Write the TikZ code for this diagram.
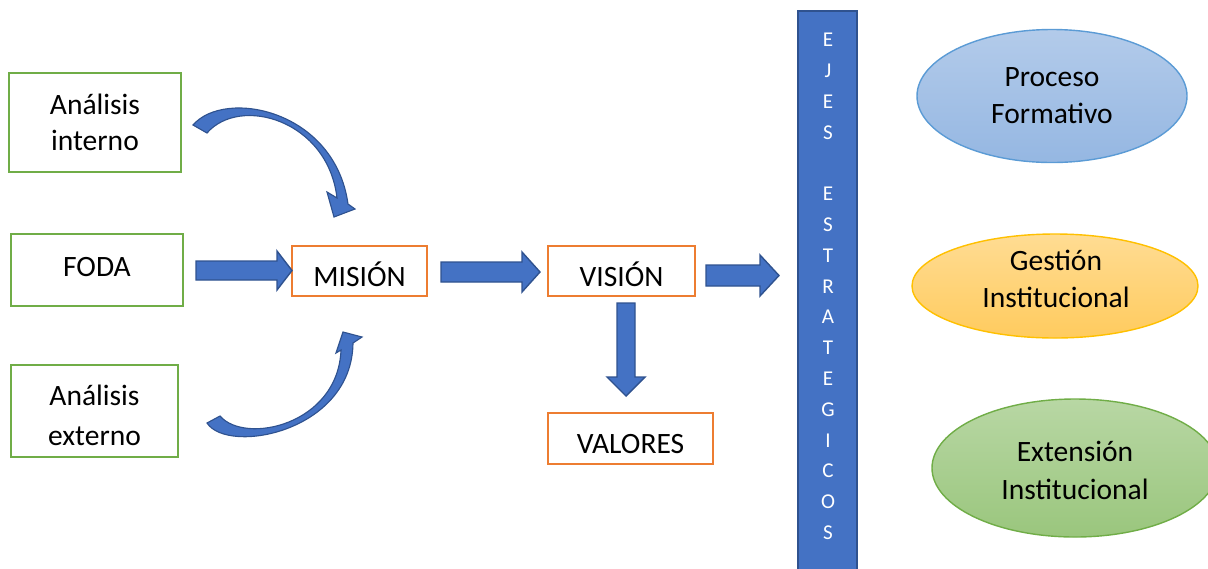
\documentclass[tikz,border=0pt]{standalone}
\usepackage{fontspec}
\setmainfont{Carlito}
\usetikzlibrary{shapes.geometric}
\definecolor{gborder}{HTML}{70AD47}
\definecolor{oborder}{HTML}{ED7D31}
\definecolor{blu}{HTML}{4472C4}
\definecolor{blud}{HTML}{2F528F}
\definecolor{e1b}{HTML}{5B9BD5}
\definecolor{e1t}{HTML}{B3CBEA}
\definecolor{e1d}{HTML}{95B7E2}
\definecolor{e2b}{HTML}{FFC000}
\definecolor{e2t}{HTML}{FFDC93}
\definecolor{e2d}{HTML}{FFCB5E}
\definecolor{e3b}{HTML}{70AD47}
\definecolor{e3t}{HTML}{B8D7A4}
\definecolor{e3d}{HTML}{9AC67D}
\tikzset{
  txt/.style={font=\fontsize{21}{25.5}\selectfont, align=center},
  gbox/.style={draw=gborder, line width=1.5pt, rectangle, inner sep=0pt},
  obox/.style={draw=oborder, line width=1.5pt, rectangle, inner sep=0pt},
  barrow/.style={fill=blu, draw=blud, line width=1pt, line join=miter},
  ell/.style={ellipse, inner sep=0pt, line width=1pt},
  barletter/.style={font=\fontsize{15}{18}\selectfont, text=white, inner sep=0pt}
}
\begin{document}
\begin{tikzpicture}[x=0.025cm, y=-0.025cm]
\useasboundingbox (0,0) rectangle (1208,568);
\clip (0,0) rectangle (1208,568);

% left boxes
\node[gbox, minimum width={172*0.025cm}, minimum height={99*0.025cm}] (interno) at (95,122.5) {};
\node[txt] (internot) at (95,122.5) {Análisis\\interno};
\node[gbox, minimum width={172*0.025cm}, minimum height={72*0.025cm}] (foda) at (97,270) {};
\node[txt] (fodat) at (97,267) {FODA};
\node[gbox, minimum width={167*0.025cm}, minimum height={92*0.025cm}] (externo) at (94.5,411) {};
\node[txt, font=\fontsize{21}{28.4}\selectfont] (externot) at (94.5,415) {Análisis\\externo};

% orange boxes
\node[obox, minimum width={135*0.025cm}, minimum height={50*0.025cm}] (mision) at (359.5,271) {};
\node[txt] (misiont) at (359.5,274) {MISIÓN};
\node[obox, minimum width={147*0.025cm}, minimum height={50*0.025cm}] (vision) at (621.5,271) {};
\node[txt] (visiont) at (621.5,274) {VISIÓN};
\node[obox, minimum width={165*0.025cm}, minimum height={51*0.025cm}] (valores) at (630.5,438.5) {};
\node[txt] (valorest) at (630.5,444) {VALORES};

% straight block arrows
\draw[barrow] (196,261) -- (277,261) -- (277,251) -- (292,270.5) -- (277,290) -- (277,280) -- (196,280) -- cycle;
\draw[barrow] (441,262) -- (522,262) -- (522,252) -- (540,272) -- (522,292) -- (522,282) -- (441,282) -- cycle;
\draw[barrow] (706,265) -- (760,265) -- (760,255) -- (779,275.5) -- (760,296) -- (760,286) -- (706,286) -- cycle;
\draw[barrow] (617,303) -- (635,303) -- (635,377) -- (645,377) -- (626,396) -- (607,377) -- (617,377) -- cycle;

% curved arrows
\draw[barrow, line width=0.8pt] (193,125) .. controls (225,88) and (335,110) .. (348,204) -- (355,209) -- (334,217) -- (327,192) -- (337,198) .. controls (328,120) and (240,95) .. (207,133) -- cycle;
\draw[barrow, line width=0.8pt] (207,423) .. controls (228,455) and (352,432) .. (353,343) -- (362,337) -- (343,332) -- (336,353) -- (341,350) .. controls (338,425) and (245,445) .. (220,416) -- cycle;

% vertical bar
\draw[fill=blu, draw=blud, line width=1.5pt] (798,11) rectangle (857,575);
\foreach \l [count=\i from 0] in {E,J,E,S,{},E,S,T,R,A,T,E,G,I,C,O,S}{
  \node[barletter] (bl\i) at (828,{40+30.8*\i}) {\l};
}

% ellipses
\node[ell, draw=e1b, top color=e1t, bottom color=e1d, minimum width={270*0.025cm}, minimum height={133*0.025cm}] (proceso) at (1052,96) {};
\node[txt, font=\fontsize{21}{26.5}\selectfont] (procesot) at (1052,95.5) {Proceso\\Formativo};
\node[ell, draw=e2b, top color=e2t, bottom color=e2d, minimum width={286*0.025cm}, minimum height={104*0.025cm}] (gestion) at (1055,286) {};
\node[txt, font=\fontsize{21}{26.3}\selectfont] (gestiont) at (1056,279) {Gestión\\Institucional};
\node[ell, draw=e3b, top color=e3t, bottom color=e3d, minimum width={286*0.025cm}, minimum height={138*0.025cm}] (extension) at (1075,468) {};
\node[txt, font=\fontsize{21}{27}\selectfont] (extensiont) at (1075,470) {Extensión\\Institucional};
\end{tikzpicture}
\end{document}
